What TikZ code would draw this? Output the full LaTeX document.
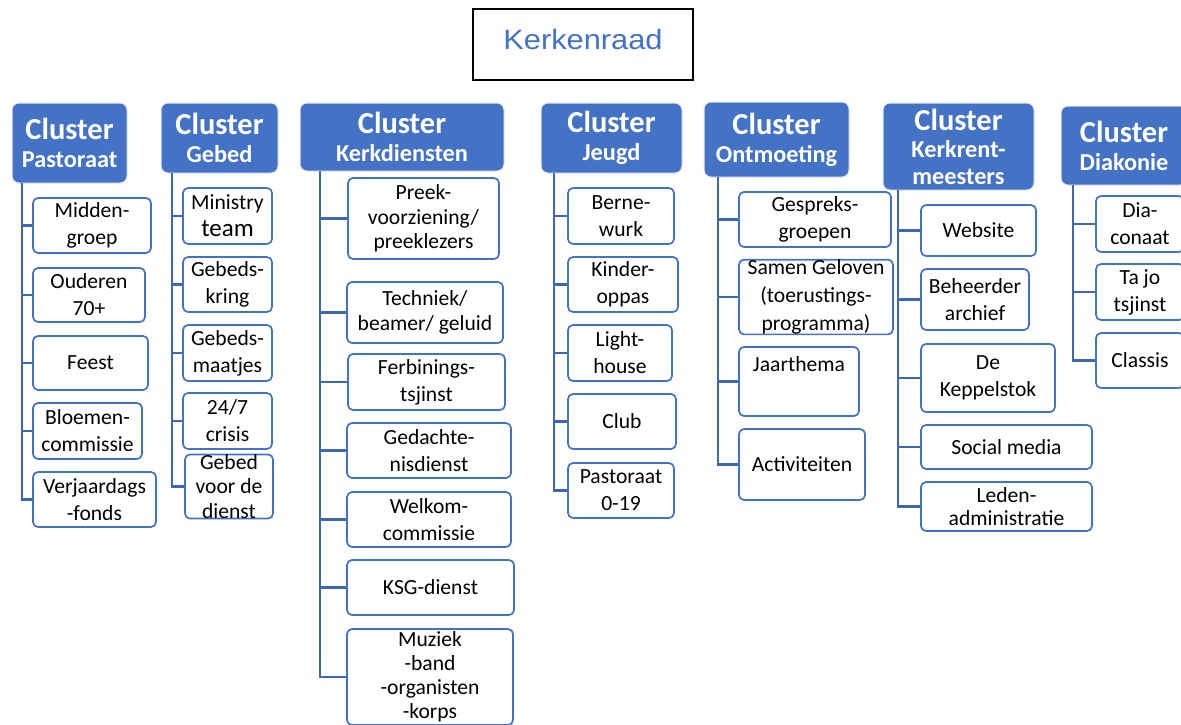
\documentclass[tikz,border=0pt]{standalone}
\usepackage{fontspec}
\setmainfont{Carlito}
\newfontfamily\arialf{Liberation Sans}
\definecolor{cblue}{HTML}{4472C4}
\definecolor{lblue}{HTML}{3F67B2}
\definecolor{cborder}{HTML}{E4E8F0}
\newcommand{\clword}{{\fontsize{30.5}{28}\selectfont Cluster}}
\tikzset{
  sz/.style 2 args={minimum width=#1pt, minimum height=#2pt},
  cluster/.style={fill=cblue, draw=cborder, line width=1pt, rounded corners=7pt,
    text=white, font=\bfseries\fontsize{24.3}{28}\selectfont, align=center, inner sep=0pt},
  item/.style={draw=cblue, line width=1.7pt, rounded corners=5pt, fill=white,
    text=black, align=center, inner sep=0pt, font=\fontsize{21.6}{27}\selectfont},
  conn/.style={draw=lblue, line width=2.2pt},
  topbox/.style={draw=black, line width=1.3pt, fill=white, inner sep=0pt,
    text=cblue, font=\arialf\fontsize{28}{32}\selectfont}
}
\begin{document}
\begin{tikzpicture}[x=1pt,y=-1pt]
\useasboundingbox (0,0) rectangle (1181,724);
\clip (0,0) rectangle (1181,724);
\fill[white] (0,0) rectangle (1181,724);

% top
\node[topbox, sz={220}{71}] (kr) at (583,44.5) {\raisebox{10pt}{\scalebox{1.1}[1]{Kerkenraad}}};

% Pastoraat
\node[cluster, sz={115}{80}] (pas) at (69.5,143) {\clword\\Pastoraat};
\node[item, sz={118}{55}] (p1) at (92,225.5) {Midden-\\groep};
\node[item, sz={112}{54}] (p2) at (89,295) {Ouderen\\70+};
\node[item, sz={115}{54}] (p3) at (90.5,363) {Feest};
\node[item, sz={109}{56}] (p4) at (87.5,431) {Bloemen-\\commissie};
\node[item, sz={123}{55}] (p5) at (94.5,499.5) {Verjaardags\\-fonds};
\coordinate (pasT) at (21.7,183);

% Gebed
\node[cluster, sz={117}{70}] (geb) at (219.5,138) {\clword\\Gebed};
\node[item, sz={89}{56}] (g1) at (227.5,216) {Ministry\\{\fontsize{25}{27}\selectfont team}};
\node[item, sz={89}{55}] (g2) at (227.5,284.5) {Gebeds-\\kring};
\node[item, sz={89}{56}] (g3) at (227.5,353) {Gebeds-\\maatjes};
\node[item, sz={89}{56}] (g4) at (227.5,421) {24/7\\crisis};
\node[item, sz={88}{55}, font=\fontsize{21.6}{24.5}\selectfont] (g5) at (229,486.5) {Gebed\\voor de\\dienst};
\coordinate (gebT) at (172,173);

% Kerkdiensten
\node[cluster, sz={204}{68}] (ker) at (402,137) {\clword\\Kerkdiensten};
\node[item, sz={151}{81}, font=\fontsize{21.6}{24.5}\selectfont] (k1) at (423.5,218.5) {Preek-\\voorziening/\\preeklezers};
\node[item, sz={156}{61}, font=\fontsize{21.6}{25}\selectfont] (k2) at (425,312.5) {Techniek/\\beamer/ geluid};
\node[item, sz={157}{56}] (k3) at (426.5,382) {Ferbinings-\\tsjinst};
\node[item, sz={164}{55}] (k4) at (429,450.5) {Gedachte-\\nisdienst};
\node[item, sz={164}{55}] (k5) at (429,519.5) {Welkom-\\commissie};
\node[item, sz={167}{55}] (k6) at (430.5,587.5) {KSG-dienst};
\node[item, sz={166}{96}, font=\fontsize{21.6}{24}\selectfont] (k7) at (430,677) {Muziek\\-band\\-organisten\\-korps};
\coordinate (kerT) at (320,171);

% Jeugd
\node[cluster, sz={141}{70}] (jeu) at (611.5,138) {\clword\\Jeugd};
\node[item, sz={106}{56}] (j1) at (621,216) {Berne-\\wurk};
\node[item, sz={110}{55}] (j2) at (623,284.5) {Kinder-\\oppas};
\node[item, sz={104}{56}] (j3) at (620,353) {Light-\\house};
\node[item, sz={108}{55}] (j4) at (622,421.5) {Club};
\node[item, sz={106}{55}] (j5) at (621,490.5) {Pastoraat\\0-19};
\coordinate (jeuT) at (554,173);

% Ontmoeting
\node[cluster, sz={145}{75}] (ont) at (776.5,139.5) {\clword\\Ontmoeting};
\node[item, sz={152}{55}] (o1) at (815,219.5) {Gespreks-\\groepen};
\node[item, sz={154}{72}, font=\fontsize{21.6}{28}\selectfont] (o2) at (816,297) {Samen Geloven\\(toerustings-\\programma)};
\node[item, sz={120}{69}] (o3) at (799,381.5) {Jaarthema\\\strut};
\node[item, sz={126}{71}] (o4) at (802,464.5) {Activiteiten};
\coordinate (ontT) at (718,177);

% Kerkrentmeesters
\node[cluster, sz={151}{87}, font=\bfseries\fontsize{24.3}{27}\selectfont] (ren) at (958.5,146.5) {\clword\\Kerkrent-\\meesters};
\node[item, sz={115}{51}] (r1) at (978.5,230.5) {Website};
\node[item, sz={108}{61}] (r2) at (975,299.5) {Beheerder\\archief};
\node[item, sz={134}{68}] (r3) at (988,378) {De\\Keppelstok};
\node[item, sz={171}{44}] (r4) at (1006.5,447) {Social media};
\node[item, sz={171}{49}, font=\fontsize{21.6}{23}\selectfont] (r5) at (1006.5,506.5) {Leden-\\administratie};
\coordinate (renT) at (898,190);

% Diakonie
\node[cluster, sz={126}{79}] (dia) at (1124,145.5) {\clword\\Diakonie};
\node[item, sz={88}{56}] (d1) at (1140,224) {Dia-\\conaat};
\node[item, sz={88}{56}] (d2) at (1140,292) {Ta jo\\tsjinst};
\node[item, sz={88}{55}] (d3) at (1140,360.5) {Classis};
\coordinate (diaT) at (1073,185);

% connectors
\foreach \t/\list in {pasT/{p1,p2,p3,p4,p5}, gebT/{g1,g2,g3,g4,g5},
  kerT/{k1,k2,k3,k4,k5,k6,k7}, jeuT/{j1,j2,j3,j4,j5}, ontT/{o1,o2,o3,o4},
  renT/{r1,r2,r3,r4,r5}, diaT/{d1,d2,d3}}{
  \foreach \c in \list { \draw[conn] (\t) |- (\c.west); }
}
\end{tikzpicture}
\end{document}
